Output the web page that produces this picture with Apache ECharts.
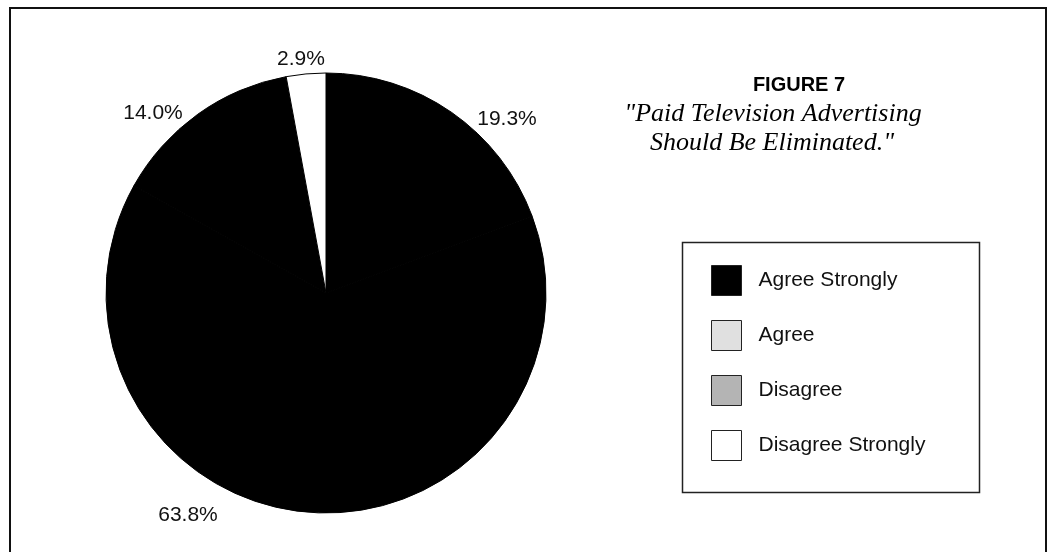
<!DOCTYPE html>
<html>
<head>
<meta charset="utf-8">
<script src="https://cdn.jsdelivr.net/npm/echarts@6/dist/echarts.min.js"></script>
<style>
  html, body { margin: 0; padding: 0; background: #ffffff; }
  #chart { width: 1050px; height: 552px; }
</style>
</head>
<body>
<div id="chart"></div>
<script>
// Survey responses, in the order the slices run clockwise from 12 o'clock
const categories = ['Agree', 'Agree Strongly', 'Disagree', 'Disagree Strongly'];
const shares = [19.3, 63.8, 14.0, 2.9];
// Legend reads top to bottom in this order
const legendOrder = ['Agree Strongly', 'Agree', 'Disagree', 'Disagree Strongly'];

const titleText = 'FIGURE 7';
const subtitleLines = ['"Paid Television Advertising', 'Should Be Eliminated."'];

// Fill of each slice in the pie, and of each key swatch
const sliceFill = { 'Agree': '#000000', 'Agree Strongly': '#000000', 'Disagree': '#000000', 'Disagree Strongly': '#ffffff' };
const swatchFill = { 'Agree Strongly': '#000000', 'Agree': '#e0e0e0', 'Disagree': '#b4b4b4', 'Disagree Strongly': '#ffffff' };

// Where each percentage label sits on the page
const labelSpots = [[507, 119], [188, 515], [153, 113], [301, 59]];

const sans = 'Arial, "Liberation Sans", Helvetica, sans-serif';
const serif = '"Times New Roman", "Liberation Serif", Times, serif';

const chart = echarts.init(document.getElementById('chart'), null, { renderer: 'canvas' });

chart.setOption({
  backgroundColor: '#ffffff',
  animation: false,
  legend: {
    orient: 'vertical',
    left: 711,
    top: 265,
    padding: 0,
    itemWidth: 30,
    itemHeight: 30,
    itemGap: 24,
    selectedMode: false,
    icon: 'rect',
    data: legendOrder.map(name => ({
      name: name,
      itemStyle: { color: swatchFill[name], borderColor: '#222222', borderWidth: 1 }
    })),
    textStyle: { fontFamily: sans, fontSize: 21, color: '#111111', padding: [0, 0, 0, 12] }
  },
  graphic: [
    // Outer frame, open at the bottom
    {
      type: 'polyline',
      shape: { points: [[10, 560], [10, 8], [1046, 8], [1046, 560]] },
      style: { stroke: '#111111', lineWidth: 2, fill: null }
    },
    // Key box
    {
      type: 'rect',
      shape: { x: 682.5, y: 242.5, width: 297, height: 250 },
      style: { stroke: '#222222', lineWidth: 1.5, fill: null }
    },
    {
      type: 'text',
      x: 799, y: 85,
      style: { text: titleText, font: 'bold 20px ' + sans, fill: '#000000', textAlign: 'center', textVerticalAlign: 'middle' }
    },
    {
      type: 'text',
      x: 773, y: 114,
      style: { text: subtitleLines[0], font: 'italic 26px ' + serif, fill: '#000000', textAlign: 'center', textVerticalAlign: 'middle' }
    },
    {
      type: 'text',
      x: 772, y: 143,
      style: { text: subtitleLines[1], font: 'italic 26px ' + serif, fill: '#000000', textAlign: 'center', textVerticalAlign: 'middle' }
    }
  ],
  series: [{
    type: 'pie',
    center: [326, 293],
    radius: 220,
    startAngle: 90,
    clockwise: true,
    avoidLabelOverlap: false,
    silent: true,
    data: categories.map((name, i) => ({
      name: name,
      value: shares[i],
      itemStyle: { color: sliceFill[name] }
    })),
    // Black outline on every slice hides the seams between the dark wedges
    itemStyle: { borderColor: '#000000', borderWidth: 1 },
    label: {
      show: true,
      position: 'outside',
      formatter: p => p.value.toFixed(1) + '%',
      fontFamily: sans,
      fontSize: 21,
      color: '#111111'
    },
    labelLine: { show: false },
    labelLayout: params => {
      const spot = labelSpots[params.dataIndex];
      return { x: spot[0], y: spot[1], align: 'center', verticalAlign: 'middle' };
    }
  }]
});
</script>
</body>
</html>
